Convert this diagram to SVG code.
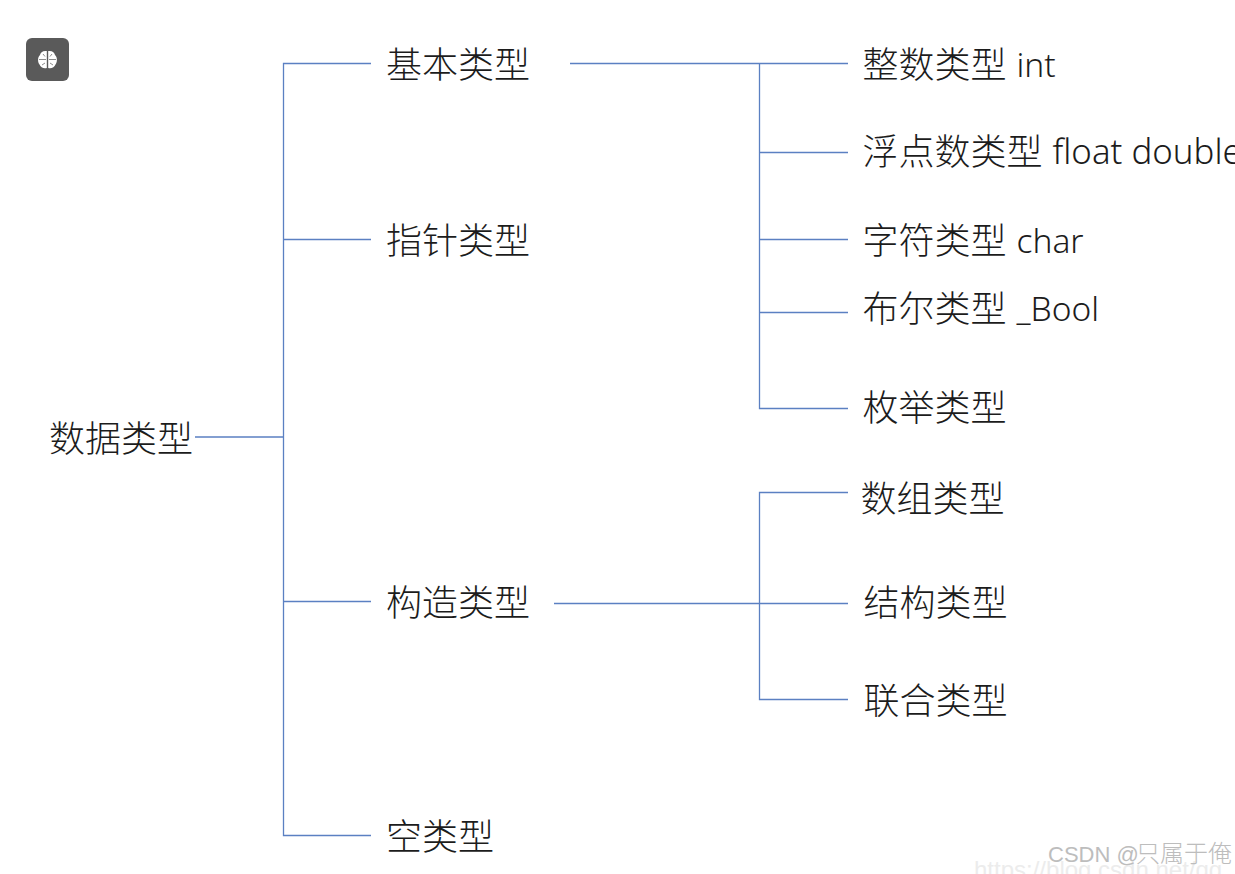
<svg xmlns="http://www.w3.org/2000/svg" width="1235" height="874" viewBox="0 0 1235 874">
<style>
text{font-family:"Noto Sans CJK SC","Noto Sans",sans-serif;font-size:36px;fill:#1c1c1c;font-weight:300}
.l{font-family:"Noto Sans","Noto Sans CJK SC",sans-serif;font-size:33.5px}
.f{font-size:34.8px}
#connectors path{fill:none;stroke:#5b80c2;stroke-width:1.3}
.wm{font-family:"Liberation Sans",sans-serif;font-size:22px;fill:#bdbdbd;font-weight:400}
.wc{font-family:"Noto Sans CJK SC",sans-serif;font-size:24px;font-weight:300}
.url{font-family:"Liberation Sans",sans-serif;font-size:24px;fill:#ececec;font-weight:400}
</style>
<rect width="1235" height="874" fill="#fff"/>
<g id="icon">
<rect x="26" y="38" width="43" height="43" rx="6" fill="#5a5a5a"/>
<path d="M46.800 51C42.500 50.500 40.500 52.500 40 55C37.500 57 37.500 62 39.500 64.500C40.500 67.500 44 69 46.800 68ZM48.200 51C52.500 50.500 54.500 52.500 55 55C57.500 57 57.500 62 55.500 64.500C54.500 67.500 51 69 48.200 68Z" fill="#fff"/>
<path d="M39 59.500H46M43 54L45 56.500M42 65L45 63M49 59.500H56M52 54L50 56.500M53 65L50 63" stroke="#5a5a5a" stroke-width=".7" fill="none"/>
</g>
<g id="connectors">
<path d="M195 437H283.500M371 63.500H283.500V835.500H371M283.500 239.500H371M283.500 601.500H371"/>
<path d="M570 63.500H848M759.500 63.500V408.500H848M759.500 152.500H848M759.500 239.500H848M759.500 312.500H848"/>
<path d="M554 603.500H848M848 492.500H759.500V699.500H848"/>
</g>
<g id="n-root"><text x="49" y="451.500">数据类型</text></g>
<g id="n-basic"><text x="386" y="77.500">基本类型</text></g>
<g id="n-pointer"><text x="386" y="253.500">指针类型</text></g>
<g id="n-construct"><text x="386" y="615.500">构造类型</text></g>
<g id="n-void"><text x="386" y="849.500">空类型</text></g>
<g id="n-int"><text x="862.500" y="77.500">整数类型 <tspan class="l" x="1016.500" y="77">int</tspan></text></g>
<g id="n-float"><text x="862.500" y="164.500">浮点数类型 <tspan class="l f" x="1052.500" y="164">float double</tspan></text></g>
<g id="n-char"><text x="862.500" y="253.500">字符类型 <tspan class="l" x="1016.500" y="253">char</tspan></text></g>
<g id="n-bool"><text x="862.500" y="322">布尔类型 <tspan class="l" x="1016.500" y="321">_Bool</tspan></text></g>
<g id="n-enum"><text x="862.500" y="421">枚举类型</text></g>
<g id="n-array"><text x="860.500" y="512">数组类型</text></g>
<g id="n-struct"><text x="863.500" y="615.500">结构类型</text></g>
<g id="n-union"><text x="863.500" y="713.500">联合类型</text></g>
<g id="watermark">
<text class="url" x="974" y="878">https://blog.csdn.net/qq_541</text>
<text class="wm" x="1048" y="862">CSDN @<tspan class="wc" x="1136" y="862">只属于俺</tspan></text>
</g>
</svg>
